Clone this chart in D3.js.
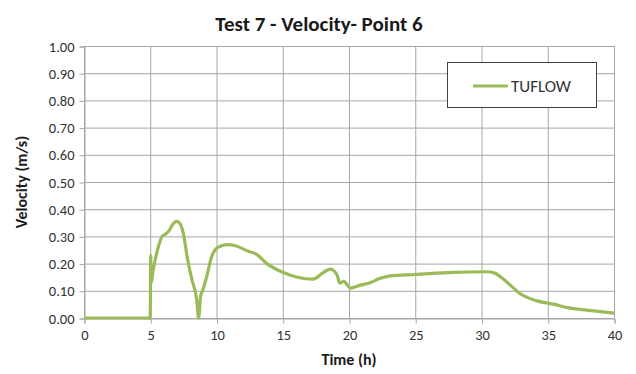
<!DOCTYPE html>
<html><head><meta charset="utf-8">
<script src="https://cdn.jsdelivr.net/npm/d3@7"></script>
<style>
body{margin:0;background:#fff;}
text{font-family:Carlito,Calibri,Lato,sans-serif;}
</style></head>
<body>
<svg id="c" width="636" height="374"></svg>
<script>
const title = "Test 7 - Velocity- Point 6";
const xLabel = "Time (h)";
const yLabel = "Velocity (m/s)";
const seriesName = "TUFLOW";
const xTicks = [0,5,10,15,20,25,30,35,40];
const yTicks = [0,0.1,0.2,0.3,0.4,0.5,0.6,0.7,0.8,0.9,1.0];
const time = [0,5.0,5.03,5.08,5.2,5.4,5.6,5.9,6.2,6.4,6.7,7.0,7.2,7.5,7.8,8.15,8.5,8.65,8.8,8.95,9.3,9.6,10.1,10.8,11.5,12.4,13.0,13.8,15,16.1,17.3,18.0,18.6,19.1,19.3,19.6,20.1,20.8,21.6,22.3,23.1,25,27.9,30.4,31.0,31.6,32.3,32.9,34.2,35.5,36.6,38.3,40];
const velocity = [0,0,0.23,0.13,0.17,0.22,0.26,0.30,0.31,0.32,0.345,0.355,0.35,0.31,0.22,0.14,0.07,0.0,0.08,0.10,0.16,0.22,0.26,0.27,0.265,0.245,0.235,0.20,0.168,0.15,0.143,0.165,0.18,0.158,0.128,0.135,0.11,0.12,0.13,0.145,0.155,0.16,0.168,0.17,0.165,0.145,0.115,0.09,0.063,0.05,0.037,0.027,0.018];

const svg = d3.select("#c");
const L=84,R=614,T=46,B=318;
const x = d3.scaleLinear().domain([0,40]).range([L,R]);
const y = d3.scaleLinear().domain([0,1]).range([B,T]);
const grid="#a6a6a6";

svg.append("g").selectAll("line").data(yTicks).join("line")
  .attr("x1",L).attr("x2",R).attr("y1",d=>y(d)+0.5).attr("y2",d=>y(d)+0.5)
  .attr("stroke",grid).attr("stroke-width",1);
svg.append("g").selectAll("line").data(xTicks).join("line")
  .attr("y1",T).attr("y2",B).attr("x1",d=>x(d)+0.5).attr("x2",d=>x(d)+0.5)
  .attr("stroke",grid).attr("stroke-width",1);

const xa = svg.append("g").attr("transform",`translate(0.5,${B+0.5})`)
  .call(d3.axisBottom(x).tickValues(xTicks).tickSize(5).tickPadding(6).tickFormat(d3.format("d")));
const ya = svg.append("g").attr("transform",`translate(${L+0.5},0.5)`)
  .call(d3.axisLeft(y).tickValues(yTicks).tickSize(5).tickPadding(5).tickFormat(d3.format(".2f")));
[xa,ya].forEach(a=>{
  a.select(".domain").attr("stroke",grid);
  a.selectAll(".tick line").attr("stroke",grid);
  a.selectAll(".tick text").attr("fill","#333").style("font-size","14.5px").style("font-family","Carlito,Calibri,Lato,sans-serif");
});

svg.append("path").datum(time.map((t,i)=>[t,velocity[i]]))
  .attr("d",d3.line().curve(d3.curveMonotoneX).x(d=>x(d[0])).y(d=>y(d[1])))
  .attr("fill","none").attr("stroke","#9bbb59").attr("stroke-width",3.2).attr("stroke-linejoin","round");

svg.append("text").attr("x",319).attr("y",31).attr("text-anchor","middle")
  .style("font-size","21px").style("font-weight","bold").attr("fill","#1a1a1a").text(title);
svg.append("text").attr("x",349).attr("y",365).attr("text-anchor","middle")
  .style("font-size","16px").style("font-weight","bold").attr("fill","#1a1a1a").text(xLabel);
svg.append("text").attr("transform","translate(27,182) rotate(-90)").attr("text-anchor","middle")
  .style("font-size","16px").style("font-weight","bold").attr("fill","#1a1a1a").text(yLabel);

const lg = svg.append("g");
lg.append("rect").attr("x",447.5).attr("y",62.5).attr("width",149).attr("height",45)
  .attr("fill","#fff").attr("stroke","#404040").attr("stroke-width",1);
lg.append("line").attr("x1",473).attr("x2",508).attr("y1",86).attr("y2",86)
  .attr("stroke","#9bbb59").attr("stroke-width",3);
lg.append("text").attr("x",511).attr("y",92).style("font-size","17px").attr("fill","#333").text(seriesName);
</script>
</body></html>
